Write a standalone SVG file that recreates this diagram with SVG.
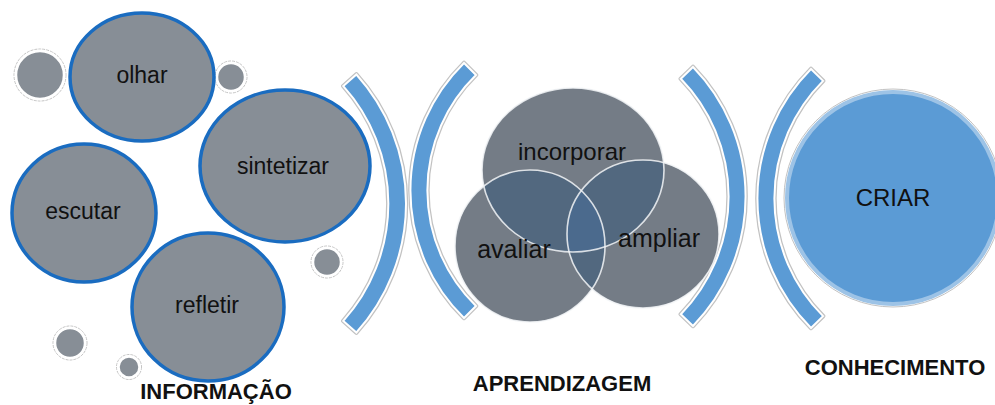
<svg xmlns="http://www.w3.org/2000/svg" width="995" height="405" viewBox="0 0 995 405">
<style>
.big{fill:#878e96;stroke:#1a6cc0;stroke-width:3.5}
.dot{fill:#878e96;stroke:#ffffff;stroke-width:2.5}
.dotring{fill:none;stroke:#c4c4c4;stroke-width:1;stroke-dasharray:3 1}
.t{font-family:"Liberation Sans",Arial,sans-serif;fill:#111;text-anchor:middle}
.lbl{font-family:"Liberation Sans",Arial,sans-serif;font-weight:bold;font-size:22px;fill:#111;text-anchor:middle}
.brk-o{fill:none;stroke:#c2c2c2;stroke-width:4.5;stroke-linejoin:round}
.brk{fill:#5b9bd5;stroke:#ffffff;stroke-width:2}
.venn{fill:#747c86}
.vline{fill:none;stroke:#f2f4f7;stroke-width:1.6;opacity:0.85}
</style>
<defs>
<path id="b1" d="M356.4,74.5 A192.5,192.5 0 0 1 356.4,332.5 L343.3,320.9 A175.5,175.5 0 0 0 343.3,86.1 Z"/>
<path id="b2" d="M464,63 A178.5,178.5 0 0 0 464,318 L476,306 A161.5,161.5 0 0 1 476,75 Z"/>
<path id="b3" d="M693,67 A185.8,185.8 0 0 1 693,326 L680.8,314.2 A168.8,168.8 0 0 0 680.8,78.8 Z"/>
<path id="b4" d="M811,69 A183.3,183.3 0 0 0 811,328 L823.1,316.1 A166.3,166.3 0 0 1 823.1,80.9 Z"/>
<clipPath id="cInc"><ellipse cx="573" cy="170" rx="91" ry="82"/></clipPath>
<clipPath id="cAva"><ellipse cx="530" cy="246" rx="75" ry="76"/></clipPath>
</defs>

<g id="connectors">
<use href="#b1" class="brk-o"/><use href="#b1" class="brk"/>
<use href="#b2" class="brk-o"/><use href="#b2" class="brk"/>
<use href="#b3" class="brk-o"/><use href="#b3" class="brk"/>
<use href="#b4" class="brk-o"/><use href="#b4" class="brk"/>
</g>

<g id="dots">
<circle class="dotring" cx="40" cy="75" r="26"/><circle class="dot" cx="40" cy="75" r="24"/>
<circle class="dotring" cx="231" cy="77" r="16"/><circle class="dot" cx="231" cy="77" r="14"/>
<circle class="dotring" cx="327" cy="262" r="16"/><circle class="dot" cx="327" cy="262" r="14"/>
<circle class="dotring" cx="70" cy="343" r="17"/><circle class="dot" cx="70" cy="343" r="15"/>
<circle class="dotring" cx="129" cy="367" r="12.5"/><circle class="dot" cx="129" cy="367" r="10.5"/>
</g>

<g id="olhar"><ellipse class="big" cx="142" cy="77" rx="72" ry="64"/><text class="t" x="142" y="83" font-size="23">olhar</text></g>
<g id="sintetizar"><ellipse class="big" cx="285" cy="166" rx="85" ry="76"/><text class="t" x="283" y="174" font-size="23">sintetizar</text></g>
<g id="escutar"><ellipse class="big" cx="84" cy="213" rx="72" ry="69"/><text class="t" x="83" y="219" font-size="23">escutar</text></g>
<g id="refletir"><ellipse class="big" cx="208" cy="307" rx="76" ry="74"/><text class="t" x="207" y="313" font-size="23">refletir</text></g>

<g id="venn">
<ellipse class="venn" cx="573" cy="170" rx="91" ry="82"/>
<ellipse class="venn" cx="530" cy="246" rx="75" ry="76"/>
<ellipse class="venn" cx="643" cy="234" rx="76" ry="74"/>
<g clip-path="url(#cInc)"><ellipse cx="530" cy="246" rx="75" ry="76" fill="#52687f"/><ellipse cx="643" cy="234" rx="76" ry="74" fill="#52687f"/></g>
<g clip-path="url(#cAva)"><ellipse cx="643" cy="234" rx="76" ry="74" fill="#52687f"/></g>
<g clip-path="url(#cInc)"><g clip-path="url(#cAva)"><ellipse cx="643" cy="234" rx="76" ry="74" fill="#4b6a8d"/></g></g>
<ellipse class="vline" cx="573" cy="170" rx="91" ry="82"/>
<ellipse class="vline" cx="530" cy="246" rx="75" ry="76"/>
<ellipse class="vline" cx="643" cy="234" rx="76" ry="74"/>
</g>
<g id="incorporar"><text class="t" x="572" y="160" font-size="24">incorporar</text></g>
<g id="avaliar"><text class="t" x="514" y="258" font-size="25">avaliar</text></g>
<g id="ampliar"><text class="t" x="659" y="247" font-size="25">ampliar</text></g>

<g id="criar">
<circle cx="893" cy="198" r="109" fill="none" stroke="#c2c2c2" stroke-width="1"/>
<circle cx="893" cy="198" r="106" fill="#5b9bd5" stroke="#9dc3e6" stroke-width="4"/>
<text class="t" x="893" y="206" font-size="24">CRIAR</text>
</g>

<g id="labels">
<text class="lbl" x="216" y="399">INFORMAÇÃO</text>
<text class="lbl" x="562" y="391">APRENDIZAGEM</text>
<text class="lbl" x="895" y="375">CONHECIMENTO</text>
</g>
</svg>
